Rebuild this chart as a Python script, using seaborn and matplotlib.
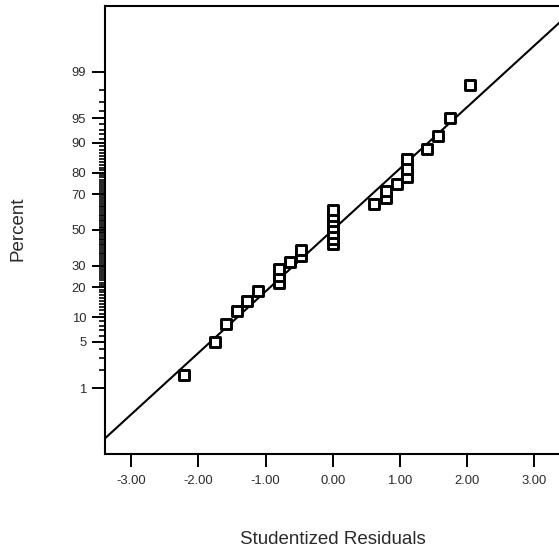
import numpy as np
import pandas as pd
import matplotlib
matplotlib.use("Agg")
import matplotlib.pyplot as plt
from matplotlib.ticker import FixedLocator, FixedFormatter, NullFormatter
import seaborn as sns
from statistics import NormalDist

# ---- data ----
residuals = [-2.22, -1.75, -1.59, -1.43, -1.28, -1.11, -0.80, -0.80, -0.80, -0.64,
             -0.48, -0.48, 0.00, 0.00, 0.00, 0.00, 0.00, 0.00, 0.00, 0.62,
             0.79, 0.79, 0.95, 1.11, 1.11, 1.11, 1.41, 1.57, 1.74, 2.05]
percent = [1.67, 5.00, 8.33, 11.67, 15.00, 18.33, 21.67, 25.00, 28.33, 31.67,
           35.00, 38.33, 41.67, 45.00, 48.33, 51.67, 55.00, 58.33, 61.67, 65.00,
           68.33, 71.67, 75.00, 78.33, 81.67, 85.00, 88.33, 91.67, 95.00, 98.33]
line_x = [0.0, 2.0]
line_pct = [50.0, 96.45]
x_ticks = [-3.0, -2.0, -1.0, 0.0, 1.0, 2.0, 3.0]
x_tick_labels = ["-3.00", "-2.00", "-1.00", "0.00", "1.00", "2.00", "3.00"]
y_ticks = [1, 5, 10, 20, 30, 50, 70, 80, 90, 95, 99]
y_tick_labels = ["1", "5", "10", "20", "30", "50", "70", "80", "90", "95", "99"]
y_minor_ticks = [p for p in range(2, 99) if p not in y_ticks]

df = pd.DataFrame({"Studentized Residuals": residuals, "Percent": percent})

sns.set_style("white")
plt.rcParams["font.family"] = ["Liberation Sans", "DejaVu Sans"]

_nd = NormalDist()
_ppf = np.vectorize(lambda p: _nd.inv_cdf(min(max(p / 100.0, 1e-9), 1 - 1e-9)), otypes=[float])
_cdf = np.vectorize(lambda z: _nd.cdf(z) * 100.0, otypes=[float])

def fwd(p):
    return _ppf(np.asarray(p, dtype=float))

def inv(z):
    return _cdf(np.asarray(z, dtype=float))

W, H = 559, 548
fig = plt.figure(figsize=(W / 100, H / 100), dpi=100)
ax = fig.add_axes([105 / W, 94 / H, 455.5 / W, 448 / H])
ax.set_yscale("function", functions=(fwd, inv))

ax.axline((line_x[0], line_pct[0]), (line_x[1], line_pct[1]), color="black", lw=1.5, zorder=2)

sns.scatterplot(data=df, x="Studentized Residuals", y="Percent", ax=ax, marker="s",
                s=52, facecolor="white", edgecolor="black", linewidth=2.1, zorder=3)

ax.set_xlim(-3.39, 3.39)
ax.set_ylim(_nd.cdf(-3.29) * 100, _nd.cdf(3.29) * 100)

ax.xaxis.set_major_locator(FixedLocator(x_ticks))
ax.xaxis.set_major_formatter(FixedFormatter(x_tick_labels))
ax.yaxis.set_major_locator(FixedLocator(y_ticks))
ax.yaxis.set_major_formatter(FixedFormatter(y_tick_labels))
ax.yaxis.set_minor_locator(FixedLocator(y_minor_ticks))
ax.yaxis.set_minor_formatter(NullFormatter())

txt_color = "#2a2a2a"
ax.tick_params(axis="both", which="major", direction="out", length=9.5, width=1.4,
               color="black", labelsize=9.4, labelcolor=txt_color, pad=4)
ax.tick_params(axis="x", which="major", pad=5.5)
ax.tick_params(axis="y", which="minor", direction="out", length=4.5, width=1.2,
               color="black", left=True)
ax.tick_params(axis="x", which="major", bottom=True)
ax.tick_params(axis="y", which="major", left=True)

for side in ["left", "bottom", "top", "right"]:
    ax.spines[side].set_visible(True)
    ax.spines[side].set_color("black")
    ax.spines[side].set_linewidth(1.5)

ax.set_xlabel("Studentized Residuals", fontsize=13.5, color=txt_color)
ax.set_ylabel("Percent", fontsize=13.5, color=txt_color)
ax.xaxis.set_label_coords(0.5, (17 - 94) / 448)
ax.yaxis.set_label_coords((27 - 105) / 455.5, 0.503)

fig.savefig("out.png", dpi=100, facecolor="white")
